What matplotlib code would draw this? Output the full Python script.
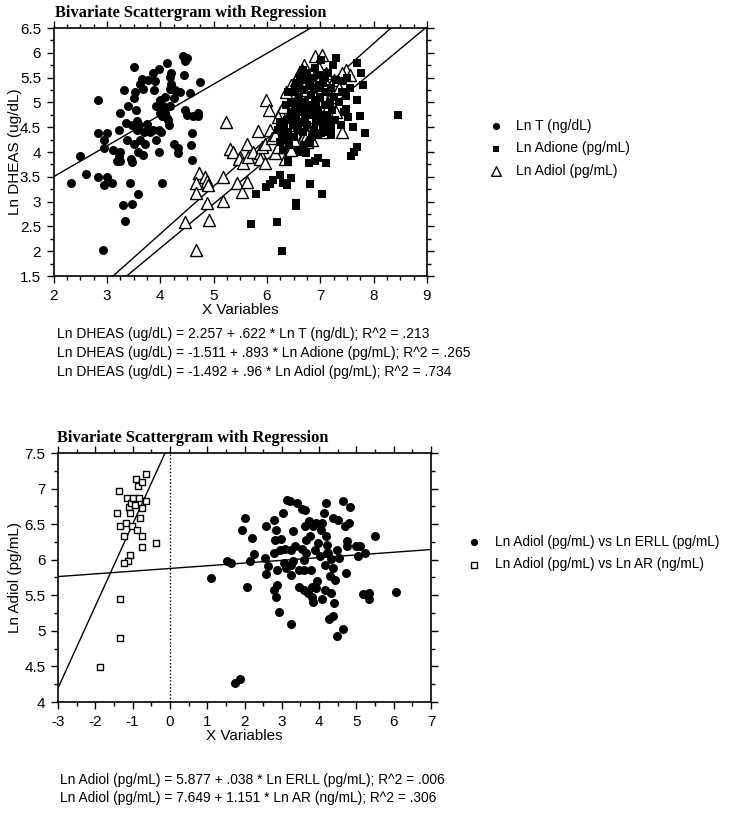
import matplotlib
matplotlib.use("Agg")
import matplotlib.pyplot as plt
from matplotlib.ticker import MultipleLocator, FormatStrFormatter
import numpy as np

plt.rcParams['font.family'] = ['Liberation Sans', 'DejaVu Sans']
plt.rcParams['axes.unicode_minus'] = False

# ---------------- Top chart data ----------------
lnT_x = [2.33, 2.50, 2.61, 2.84, 2.84, 2.84, 2.94, 2.94, 3.01, 3.00, 2.94, 2.92, 3.09, 3.11,
         3.22, 3.24, 3.22, 3.19, 3.25, 3.25, 3.32, 3.31, 3.34, 3.36, 3.37, 3.40, 3.43, 3.45,
         3.47, 3.48, 3.50, 3.50, 3.51, 3.48, 3.53, 3.55, 3.56, 3.56, 3.59, 3.59, 3.61, 3.62,
         3.63, 3.65, 3.67, 3.68, 3.70, 3.72, 3.75, 3.78, 3.81, 3.87, 3.87, 3.88, 3.90, 3.93,
         3.93, 3.97, 3.97, 3.98, 4.00, 4.00, 4.03, 4.01, 4.03, 4.06, 4.09, 4.09, 4.12, 4.12,
         4.15, 4.18, 4.18, 4.20, 4.18, 4.17, 4.21, 4.25, 4.26, 4.28, 4.34, 4.34, 4.37, 4.43,
         4.44, 4.46, 4.50, 4.46, 4.50, 4.56, 4.59, 4.57, 4.59, 4.71, 4.71, 4.74, 4.61]
lnT_y = [3.38, 3.91, 3.56, 5.05, 4.39, 3.49, 4.24, 4.08, 4.39, 3.49, 3.34, 2.02, 3.37, 4.05,
         4.45, 4.78, 3.91, 3.81, 3.81, 4.01, 5.25, 2.93, 2.60, 4.59, 4.24, 4.92, 3.37, 3.85,
         4.55, 2.96, 5.72, 5.08, 4.17, 3.80, 5.21, 4.84, 4.63, 4.45, 4.01, 3.16, 4.55, 4.24,
         5.38, 5.48, 5.28, 3.94, 4.41, 4.17, 4.57, 5.46, 4.41, 4.45, 5.60, 5.26, 5.44, 4.92,
         4.24, 4.01, 5.67, 4.45, 4.78, 5.05, 3.37, 4.41, 4.72, 4.92, 4.78, 5.11, 5.79, 4.69,
         4.65, 5.51, 5.28, 5.38, 4.92, 4.55, 5.60, 4.17, 5.08, 5.25, 4.08, 3.98, 5.21, 5.93,
         5.55, 5.83, 5.89, 4.85, 4.75, 5.18, 4.38, 4.15, 3.83, 4.79, 4.72, 5.41, 4.72]

adione_x = [5.71, 5.79, 5.98, 6.05, 6.12, 6.18, 6.25, 6.29, 6.30, 6.37, 6.40, 6.46, 6.54, 6.55,
            6.62, 6.74, 6.79, 6.80, 6.90, 6.96, 7.03, 7.10, 7.02, 7.21, 7.58, 7.64, 7.68, 7.61,
            7.74, 7.83, 8.45, 7.68, 7.80, 7.77, 7.68, 7.49, 7.49, 7.30, 7.24, 7.43,
            6.25, 6.28, 6.30, 6.32, 6.35, 6.38, 6.40, 6.42, 6.45, 6.45, 6.48, 6.50, 6.50, 6.52,
            6.55, 6.55, 6.58, 6.60, 6.60, 6.62, 6.65, 6.65, 6.68, 6.70, 6.70, 6.72, 6.75, 6.75,
            6.78, 6.80, 6.80, 6.82, 6.85, 6.85, 6.88, 6.90, 6.90, 6.92, 6.95, 6.95, 6.98, 7.00,
            7.00, 7.02, 7.05, 7.05, 7.08, 7.10, 7.12, 7.15, 7.15, 7.18, 7.20, 7.22, 7.25, 7.28,
            7.30, 7.35, 7.38, 7.40, 7.45, 7.50, 7.52, 7.55, 6.35, 6.40, 6.20, 6.25, 6.60, 6.70,
            6.55, 6.85, 7.10, 6.95, 7.20, 6.52, 6.62, 6.72, 6.88, 6.98, 7.08, 6.45, 6.58, 6.78,
            6.92, 7.02, 7.12, 6.68]
adione_y = [2.55, 3.15, 3.30, 3.36, 3.44, 2.58, 3.53, 2.00, 3.37, 3.34, 3.81, 3.47, 2.92, 2.98,
            4.01, 3.98, 3.78, 3.36, 3.81, 3.87, 3.15, 3.78, 4.38, 4.35, 3.91, 4.01, 4.11, 4.51,
            4.72, 4.38, 4.75, 5.05, 5.36, 5.59, 5.79, 4.86, 5.12, 5.89, 5.76, 5.43,
            4.20, 4.35, 4.05, 4.50, 4.25, 4.65, 4.40, 4.15, 4.80, 5.00, 4.55, 5.20, 4.30, 4.90,
            5.40, 4.70, 4.45, 5.10, 5.30, 4.60, 4.85, 5.50, 4.40, 5.00, 5.25, 4.70, 5.60, 4.55,
            4.95, 5.35, 4.20, 5.15, 4.75, 5.50, 4.45, 5.05, 5.70, 4.60, 5.30, 4.85, 5.55, 4.70,
            5.10, 5.85, 4.50, 5.40, 4.95, 5.20, 4.75, 5.60, 4.60, 5.00, 5.30, 4.85, 5.10, 4.65,
            5.45, 5.00, 4.55, 5.20, 4.80, 5.50, 4.70, 5.30, 4.95, 5.20, 4.45, 4.60, 4.05, 4.15,
            4.95, 4.30, 4.40, 4.35, 4.50, 5.30, 5.45, 5.45, 5.25, 5.35, 5.50, 4.65, 4.80, 4.85,
            4.90, 4.60, 4.95, 5.65]

adiol_x = [4.68, 4.46, 4.92, 4.87, 5.18, 4.73, 4.68, 4.67, 4.84, 4.88, 4.90, 5.17, 5.24, 5.30,
           5.36, 5.43, 5.50, 5.48, 5.53, 5.55, 5.62, 5.62, 5.65, 5.73, 5.83, 5.87, 5.87, 5.91,
           5.97, 5.97, 5.99, 6.04, 6.05, 6.09, 6.15, 6.24, 6.30, 6.33, 6.36, 6.62, 6.68, 7.40,
           6.90, 7.03, 7.49, 7.55,
           6.30, 6.35, 6.40, 6.45, 6.50, 6.55, 6.60, 6.60, 6.65, 6.68, 6.70, 6.72, 6.75, 6.78,
           6.80, 6.82, 6.85, 6.88, 6.90, 6.92, 6.95, 6.98, 7.00, 7.00, 7.05, 7.08, 7.10, 7.12,
           7.15, 7.20, 7.25, 7.30, 7.35, 7.40, 6.40, 6.50, 6.55, 6.25, 6.20, 6.45, 6.75, 6.85,
           6.15, 6.20, 6.55, 6.65, 6.40, 7.05, 6.95]
adiol_y = [2.03, 2.58, 2.63, 2.97, 3.02, 3.57, 3.37, 3.17, 3.50, 3.41, 3.34, 3.50, 4.60, 4.06,
           4.01, 3.38, 3.90, 3.85, 3.20, 3.77, 3.39, 4.17, 3.90, 4.01, 4.42, 3.98, 3.85, 4.11,
           3.78, 4.17, 5.05, 4.85, 4.45, 4.28, 3.98, 4.80, 4.11, 3.85, 4.58, 4.21, 4.28, 4.41,
           5.93, 5.96, 5.66, 5.56,
           4.90, 5.20, 4.70, 5.35, 4.50, 5.05, 5.60, 4.80, 5.25, 4.55, 5.75, 5.00, 4.35, 5.40,
           4.70, 5.60, 5.10, 4.90, 5.45, 4.60, 5.25, 5.70, 4.95, 5.50, 5.15, 4.75, 5.60, 5.35,
           4.90, 5.10, 5.45, 4.80, 5.30, 5.60, 4.30, 4.25, 4.65, 4.55, 4.70, 4.05, 4.20, 4.25,
           4.35, 4.10, 5.45, 5.65, 4.55, 4.40, 4.55]

top_coefs = {"T": (2.257, 0.622), "Adione": (-1.511, 0.893), "Adiol": (-1.492, 0.96)}
top_labels = ["Ln T (ng/dL)", "Ln Adione (pg/mL)", "Ln Adiol (pg/mL)"]
top_eqs = ["Ln DHEAS (ug/dL) = 2.257 + .622 * Ln T (ng/dL); R^2 = .213",
           "Ln DHEAS (ug/dL) = -1.511 + .893 * Ln Adione (pg/mL); R^2 = .265",
           "Ln DHEAS (ug/dL) = -1.492 + .96 * Ln Adiol (pg/mL); R^2 = .734"]

# ---------------- Bottom chart data ----------------
ar_x = [-1.88, -1.33, -1.33, -1.36, -1.43, -1.33, -1.24, -1.18, -1.14, -1.09, -1.06, -1.03,
        -0.99, -1.01, -1.06, -1.12, -1.24, -0.92, -0.86, -0.88, -0.83, -0.81, -0.76, -0.74,
        -0.74, -0.74, -0.65, -0.65, -0.36, -0.94]
ar_y = [4.49, 4.90, 5.45, 6.97, 6.65, 6.47, 6.34, 6.52, 6.87, 6.74, 6.66, 6.80,
        6.87, 6.47, 6.07, 5.98, 5.95, 7.13, 7.04, 6.42, 6.87, 6.59, 6.73, 7.09,
        6.34, 6.18, 7.20, 6.83, 6.24, 6.77]

erll_x = [1.10, 1.52, 1.63, 1.74, 1.89, 1.92, 2.01, 2.07, 2.16, 2.20, 2.25, 2.55, 2.57, 2.57,
          2.63, 2.79, 2.84, 2.81, 2.79, 2.79, 2.84, 2.93, 2.86, 2.86, 2.95, 2.99, 3.02, 3.08,
          3.11, 3.13, 3.23, 3.26, 3.26, 3.26, 3.26, 3.29, 3.31, 3.35, 3.40, 3.47, 3.47, 3.53,
          3.53, 3.59, 3.59, 3.59, 3.62, 3.62, 3.65, 3.66, 3.71, 3.74, 3.75, 3.77, 3.80, 3.80,
          3.84, 3.84, 3.89, 3.92, 3.93, 3.98, 4.02, 4.04, 4.07, 4.09, 4.13, 4.16, 4.16, 4.18,
          4.18, 4.20, 4.25, 4.27, 4.29, 4.33, 4.33, 4.36, 4.38, 4.38, 4.40, 4.42, 4.47, 4.49,
          4.54, 4.51, 4.63, 4.65, 4.69, 4.71, 4.74, 4.75, 4.80, 4.84, 5.00, 5.05, 5.09, 5.17,
          5.23, 5.35, 5.35, 5.50, 6.06, 3.05, 3.95, 4.22]
erll_y = [5.74, 5.98, 5.95, 4.27, 4.32, 6.42, 6.58, 5.62, 5.98, 6.30, 6.08, 6.02, 6.47, 5.80,
          5.91, 6.56, 6.42, 6.28, 6.09, 5.58, 5.48, 5.27, 5.85, 5.64, 6.14, 6.29, 6.66, 6.15,
          5.88, 6.84, 6.82, 6.14, 5.93, 5.79, 5.09, 6.41, 5.98, 6.19, 6.80, 5.86, 5.62, 6.71,
          6.15, 6.00, 5.86, 5.58, 6.70, 6.47, 6.28, 6.09, 5.53, 6.54, 6.33, 5.86, 5.62, 5.48,
          5.41, 6.47, 6.14, 5.60, 6.52, 6.24, 6.05, 6.42, 6.52, 5.45, 6.66, 5.58, 5.93, 6.80,
          6.33, 6.20, 6.09, 5.16, 5.77, 6.01, 5.53, 5.21, 6.59, 5.88, 5.39, 5.72, 4.93, 6.14,
          6.02, 6.56, 6.83, 5.02, 6.48, 5.81, 6.27, 6.19, 6.52, 6.74, 6.19, 6.05, 6.19, 5.52,
          6.09, 5.53, 5.45, 6.33, 5.55, 5.95, 5.70, 6.10]

bot_coefs = {"ERLL": (5.877, 0.038), "AR": (7.649, 1.151)}
bot_labels = ["Ln Adiol (pg/mL) vs Ln ERLL (pg/mL)", "Ln Adiol (pg/mL) vs Ln AR (ng/mL)"]
bot_eqs = ["Ln Adiol (pg/mL) = 5.877 + .038 * Ln ERLL (pg/mL); R^2 = .006",
           "Ln Adiol (pg/mL) = 7.649 + 1.151 * Ln AR (ng/mL); R^2 = .306"]

W, H = 729, 813
fig = plt.figure(figsize=(W / 100, H / 100), dpi=100)


def fx(px):
    return px / W


def fy(py):
    return 1 - py / H


def style_axes(ax, xmaj, xmin, ymaj, ymin):
    ax.xaxis.set_major_locator(MultipleLocator(xmaj))
    ax.xaxis.set_minor_locator(MultipleLocator(xmin))
    ax.yaxis.set_major_locator(MultipleLocator(ymaj))
    ax.yaxis.set_minor_locator(MultipleLocator(ymin))
    ax.xaxis.set_major_formatter(FormatStrFormatter('%g'))
    ax.yaxis.set_major_formatter(FormatStrFormatter('%g'))
    ax.tick_params(which='both', direction='out', top=True, right=True,
                   labeltop=False, labelright=False, colors='black', labelsize=11, width=1)
    ax.tick_params(which='major', length=5, pad=4)
    ax.tick_params(which='minor', length=3)
    for s in ax.spines.values():
        s.set_linewidth(1.2)


def regline(ax, a, b, xlim):
    xs = np.linspace(xlim[0], xlim[1], 200)
    ax.plot(xs, a + b * xs, color='black', lw=1.0, zorder=1)


TITLE = "Bivariate Scattergram with Regression"

# ---------------- Top axes ----------------
L1, R1, T1, B1 = 53.5, 427, 28, 276
ax1 = fig.add_axes([fx(L1), fy(B1), fx(R1) - fx(L1), fy(T1) - fy(B1)])
xl1 = (2, 9)
for key in ["T", "Adione", "Adiol"]:
    regline(ax1, *top_coefs[key], xl1)
h1 = ax1.scatter(lnT_x, lnT_y, marker='o', s=42, color='black', zorder=2, linewidths=0)
h3 = ax1.scatter(adiol_x, adiol_y, marker='^', s=75, facecolor='white', edgecolor='black',
                 linewidths=1.0, zorder=3)
h2 = ax1.scatter(adione_x, adione_y, marker='s', s=38, color='black', zorder=4, linewidths=0)
ax1.set_xlim(*xl1)
ax1.set_ylim(1.5, 6.5)
style_axes(ax1, 1, 0.25, 0.5, 0.25)
ax1.set_xlabel("X Variables", fontsize=11, labelpad=0)
ax1.set_ylabel("Ln DHEAS (ug/dL)", fontsize=11)
ax1.yaxis.set_label_coords((22 - L1) / (R1 - L1), 0.5)
fig.text(fx(55), fy(13), TITLE, fontsize=11.8,
         fontweight='bold', family=['Liberation Serif'], va='center', ha='left')
for i, t in enumerate(top_eqs):
    fig.text(fx(57), fy(334 + 19 * i), t, fontsize=10, va='center', ha='left')
ax1.legend([h1, h2, h3], top_labels, loc='upper left', bbox_to_anchor=(fx(488), fy(119)),
           bbox_transform=fig.transFigure, frameon=False, fontsize=10,
           handletextpad=0.8, labelspacing=0.6, borderaxespad=0, borderpad=0,
           handlelength=1.2, scatterpoints=1, markerscale=0.8)

# ---------------- Bottom axes ----------------
L2, R2, T2, B2 = 58, 431, 453, 702
ax2 = fig.add_axes([fx(L2), fy(B2), fx(R2) - fx(L2), fy(T2) - fy(B2)])
xl2 = (-3, 7)
for key in ["ERLL", "AR"]:
    regline(ax2, *bot_coefs[key], xl2)
ax2.axvline(0, color='black', lw=1.0, ls=(0, (1, 1.5)), zorder=1)
g1 = ax2.scatter(erll_x, erll_y, marker='o', s=42, color='black', zorder=3, linewidths=0)
g2 = ax2.scatter(ar_x, ar_y, marker='s', s=22, facecolor='white', edgecolor='black',
                 linewidths=1.0, zorder=3)
ax2.set_xlim(*xl2)
ax2.set_ylim(4, 7.5)
style_axes(ax2, 1, 0.5, 0.5, 0.25)
ax2.set_xlabel("X Variables", fontsize=11, labelpad=0)
ax2.set_ylabel("Ln Adiol (pg/mL)", fontsize=11)
ax2.yaxis.set_label_coords((22 - L2) / (R2 - L2), 0.5)
fig.text(fx(57), fy(438), TITLE, fontsize=11.8,
         fontweight='bold', family=['Liberation Serif'], va='center', ha='left')
for i, t in enumerate(bot_eqs):
    fig.text(fx(60), fy(780 + 18 * i), t, fontsize=9.9, va='center', ha='left')
ax2.legend([g1, g2], bot_labels, loc='upper left', bbox_to_anchor=(fx(466), fy(535)),
           bbox_transform=fig.transFigure, frameon=False, fontsize=9.8,
           handletextpad=0.9, labelspacing=0.6, borderaxespad=0, borderpad=0,
           handlelength=1.2, scatterpoints=1, markerscale=0.8)

fig.savefig("out.png", dpi=100)
